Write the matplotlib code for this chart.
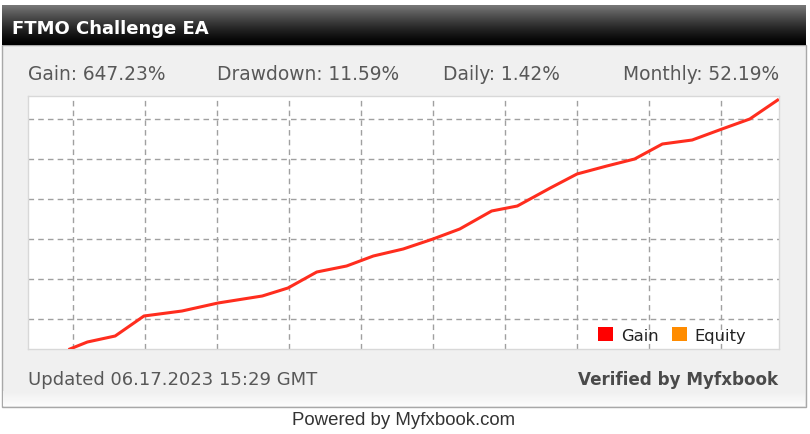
import numpy as np
import matplotlib
matplotlib.use("Agg")
import matplotlib.pyplot as plt
from matplotlib.patches import Rectangle

# ---- data ----
days = [-0.3, 1.4, 4.1, 6.9, 10.6, 14.1, 18.4, 20.9, 23.7, 26.6, 29.2, 32.1, 35.0,
        37.6, 40.7, 43.2, 46.4, 49.0, 51.9, 54.6, 57.3, 60.2, 63.1, 65.8, 68.5]
gain = [25, 42.5, 57.5, 107.5, 120, 140, 157.5, 177.5, 217.5, 232.5, 257.5, 275, 300,
        325, 370, 382.5, 427.5, 462.5, 482.5, 500, 537.5, 547.5, 575, 600, 647.23]
title = "FTMO Challenge EA"
stats_labels = ["Gain: 647.23%", "Drawdown: 11.59%", "Daily: 1.42%", "Monthly: 52.19%"]
legend_labels = ["Gain", "Equity"]
legend_colors = ["#ff0000", "#ff8c00"]
updated_text = "Updated 06.17.2023 15:29 GMT"
verified_text = "Verified by Myfxbook"
powered_text = "Powered by Myfxbook.com"
x_grid = [0, 7, 14, 21, 28, 35, 42, 49, 56, 63]
y_grid = [100, 200, 300, 400, 500, 600]

W, H = 810, 435
fig = plt.figure(figsize=(W / 100, H / 100), dpi=100)
fig.patch.set_facecolor("white")

# background / decoration axes in pixel coordinates
bg = fig.add_axes([0, 0, 1, 1])
bg.set_xlim(0, W)
bg.set_ylim(H, 0)
bg.axis("off")

# panel body
bg.add_patch(Rectangle((2, 46), 804, 362, facecolor="#f0f0f0", edgecolor="#a8a8a8", lw=1))
grad_b = np.linspace(0, 1, 64).reshape(-1, 1)
bg.imshow(np.dstack([0.94 + 0.05 * grad_b] * 3), extent=(3, 805, 407, 392), aspect="auto", zorder=1)
# header gradient
grad = np.linspace(0, 1, 64).reshape(-1, 1)
hv = 0.47 * (1 - grad) ** 1.3
bg.imshow(np.dstack([hv, hv, hv]), extent=(2, 806, 46, 6), aspect="auto", zorder=2)
bg.text(12, 29, title, color="white", fontsize=13, fontweight="bold",
        va="center", ha="left", zorder=3)

# stats row
stat_x = [28, 217, 443, 623]
for sx, lab in zip(stat_x, stats_labels):
    bg.text(sx, 74, lab, color="#585858", fontsize=13.4, va="center", ha="left", zorder=3)

# footer texts
bg.text(28, 380, updated_text, color="#585858", fontsize=13, va="center", ha="left", zorder=3)
bg.text(778, 380, verified_text, color="#4a4a4a", fontsize=12.1, fontweight="bold",
        va="center", ha="right", zorder=3)
bg.text(404, 421, powered_text, color="#333333", fontsize=13.4, family="Liberation Sans",
        va="center", ha="center", zorder=3)

# ---- main chart ----
left, right, top, bottom = 28, 779, 97, 350
ax = fig.add_axes([left / W, 1 - bottom / H, (right - left) / W, (bottom - top) / H])
ax.set_facecolor("white")
ax.set_xlim(-4.375, 68.64)
ax.set_ylim(25, 657.5)
ax.set_xticks(x_grid)
ax.set_yticks(y_grid)
ax.tick_params(length=0, labelbottom=False, labelleft=False)
ax.grid(True, color="#a0a0a0", linestyle=(0, (4, 3)), linewidth=1)
for s in ax.spines.values():
    s.set_color("#d8d8d8")
    s.set_linewidth(1)
ax.plot(days, gain, color="#ff2d1e", lw=2.2, solid_joinstyle="round", clip_on=True, zorder=3)

# legend
handles = [Rectangle((0, 0), 1, 1, facecolor=c, edgecolor="none") for c in legend_colors]
leg = ax.legend(handles, legend_labels, loc="lower right", ncol=2, frameon=False,
                fontsize=11.8, handlelength=0.9, handleheight=0.9, handletextpad=0.5,
                columnspacing=0.8, bbox_to_anchor=(0.972, -0.02), borderaxespad=0.3)
for t in leg.get_texts():
    t.set_color("#222222")

fig.savefig("out.png", dpi=100)
